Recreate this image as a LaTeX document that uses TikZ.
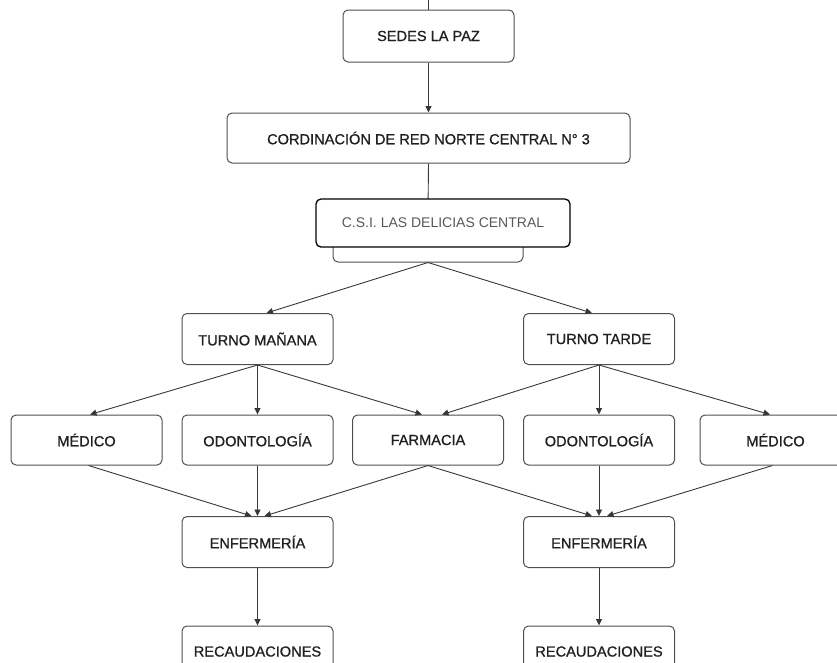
\documentclass[tikz,border=0pt]{standalone}
\usepackage{fontspec}
\setmainfont{Liberation Sans}
\newfontfamily\boxfont[FakeBold=0.9]{Liberation Sans}
\usetikzlibrary{arrows.meta}
\definecolor{boxline}{HTML}{505050}
\definecolor{edgeline}{HTML}{383838}
\definecolor{txt}{HTML}{202020}
\tikzset{
  orgbox/.style={draw=boxline, line width=1pt, rounded corners=5pt, fill=white,
    minimum width=151pt, minimum height=51pt, inner sep=0pt, text=txt,
    font=\boxfont\fontsize{14.6}{17}\selectfont},
  csibox/.style={orgbox, draw=black, line width=1.3pt, text=black!65,
    minimum width=254pt, minimum height=48pt, font=\rmfamily\fontsize{14}{17}\selectfont},
  link/.style={draw=edgeline, line width=0.9pt},
  arr/.style={link, -{Triangle[length=6.5pt,width=6pt]}}
}
\begin{document}
\begin{tikzpicture}[x=1pt,y=-1pt]
\useasboundingbox (0,0) rectangle (837,662);
% nodes
\coordinate (top) at (428.5,0);
\node[orgbox, minimum width=171pt, minimum height=52pt] (sedes) at (428.5,36) {SEDES LA PAZ};
\node[orgbox, minimum width=403pt, minimum height=50pt] (cord) at (428.5,138) {CORDINACIÓN DE RED NORTE CENTRAL N° 3};
\node[orgbox, minimum width=190pt, minimum height=50pt] (back) at (428,237) {};
\node[orgbox] (tm) at (257.5,339) {TURNO MAÑANA};
\node[orgbox] (tt) at (599,339) {TURNO TARDE};
\node[orgbox, minimum height=50pt] (med1) at (86.5,440) {MÉDICO};
\node[orgbox, minimum height=50pt] (odo1) at (257.5,440) {ODONTOLOGÍA};
\node[orgbox, minimum height=50pt] (farm) at (428,440) {FARMACIA};
\node[orgbox, minimum height=50pt] (odo2) at (599,440) {ODONTOLOGÍA};
\node[orgbox, minimum height=50pt] (med2) at (775.5,440) {MÉDICO};
\node[orgbox] (enf1) at (257.5,542) {ENFERMERÍA};
\node[orgbox] (enf2) at (599,542) {ENFERMERÍA};
\node[orgbox] (rec1) at (257.5,651.5) {RECAUDACIONES};
\node[orgbox] (rec2) at (599,651.5) {RECAUDACIONES};
% connectors
\draw[link] (top) -- (sedes.north);
\draw[arr] (sedes.south) -- (cord.north);
\draw[link] (cord.south) -- (back.north);
\draw[arr] (back.south) -- ([xshift=9pt]tm.north);
\draw[arr] (back.south) -- ([xshift=-7pt]tt.north);
\draw[arr] (tm.south) -- ([xshift=3.5pt]med1.north);
\draw[arr] (tm.south) -- (odo1.north);
\draw[arr] (tm.south) -- ([xshift=-6pt]farm.north);
\draw[arr] (tt.south) -- ([xshift=14pt]farm.north);
\draw[arr] (tt.south) -- (odo2.north);
\draw[arr] (tt.south) -- ([xshift=-5.5pt]med2.north);
\draw[arr] ([xshift=2pt]med1.south) -- ([xshift=-6pt]enf1.north);
\draw[arr] (odo1.south) -- (enf1.north);
\draw[arr] (farm.south) -- ([xshift=7pt]enf1.north);
\draw[arr] (farm.south) -- ([xshift=-7pt]enf2.north);
\draw[arr] (odo2.south) -- (enf2.north);
\draw[arr] ([xshift=-3pt]med2.south) -- ([xshift=8pt]enf2.north);
\draw[arr] (enf1.south) -- (rec1.north);
\draw[arr] (enf2.south) -- (rec2.north);
% front box drawn last, covering the back box
\node[csibox] (csi) at (443,223) {C.S.I. LAS DELICIAS CENTRAL};
\end{tikzpicture}
\end{document}
